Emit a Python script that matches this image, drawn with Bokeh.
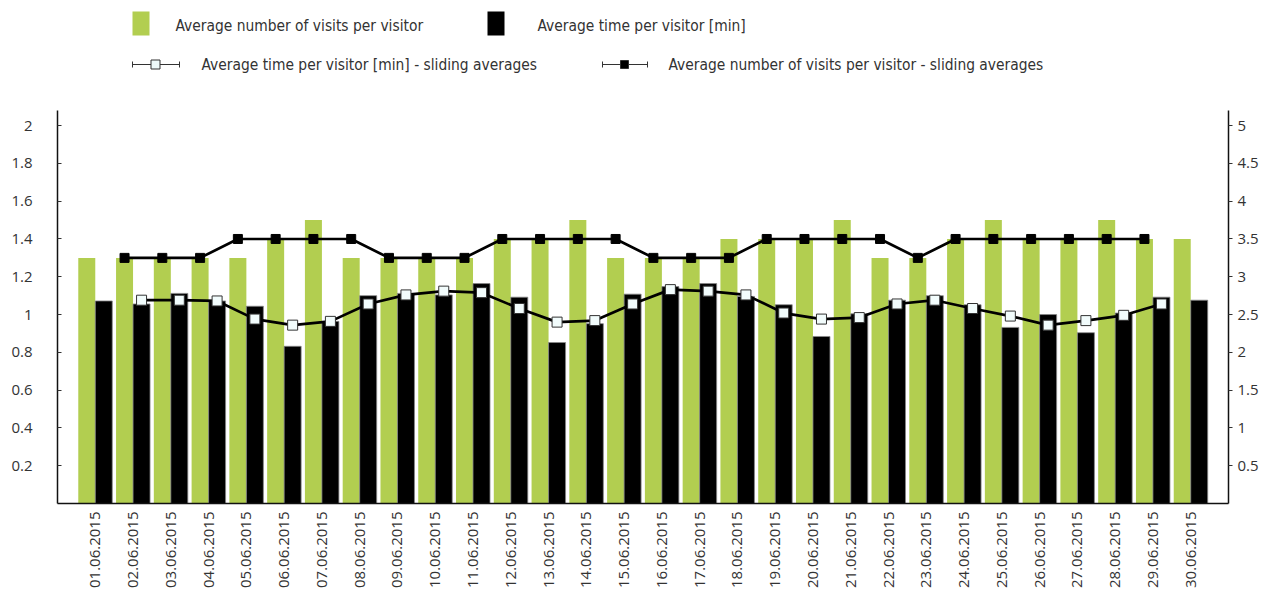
from bokeh.plotting import figure
from bokeh.models import Range1d, LinearAxis, FixedTicker, ColumnDataSource, CustomJSTickFormatter
from bokeh.layouts import column
from bokeh.embed import file_html
from bokeh.resources import INLINE
from bokeh.core.properties import value
from bokeh.transform import dodge
from math import pi

# ---------------- data ----------------
days = list(range(1, 31))
date_labels = ["01.06.2015", "02.06.2015", "03.06.2015", "04.06.2015", "05.06.2015",
               "06.06.2015", "07.06.2015", "08.06.2015", "09.06.2015", "10.06.2015",
               "11.06.2015", "12.06.2015", "13.06.2015", "14.06.2015", "15.06.2015",
               "16.06.2015", "17.06.2015", "18.06.2015", "19.06.2015", "20.06.2015",
               "21.06.2015", "22.06.2015", "23.06.2015", "24.06.2015", "25.06.2015",
               "26.06.2015", "27.06.2015", "28.06.2015", "29.06.2015", "30.06.2015"]
visits = [1.3, 1.3, 1.3, 1.3, 1.3, 1.4, 1.5, 1.3, 1.3, 1.3,
          1.3, 1.4, 1.4, 1.5, 1.3, 1.3, 1.3, 1.4, 1.4, 1.4,
          1.5, 1.3, 1.3, 1.4, 1.5, 1.4, 1.4, 1.5, 1.4, 1.4]
time_min = [2.68, 2.64, 2.78, 2.68, 2.61, 2.08, 2.41, 2.75, 2.78, 2.76,
            2.91, 2.73, 2.13, 2.38, 2.77, 2.87, 2.91, 2.74, 2.63, 2.21,
            2.51, 2.69, 2.75, 2.63, 2.33, 2.50, 2.26, 2.52, 2.73, 2.69]
sliding_days = list(range(2, 30))
visits_sliding = [1.3, 1.3, 1.3, 1.4, 1.4, 1.4, 1.4, 1.3, 1.3, 1.3,
                  1.4, 1.4, 1.4, 1.4, 1.3, 1.3, 1.3, 1.4, 1.4, 1.4,
                  1.4, 1.3, 1.4, 1.4, 1.4, 1.4, 1.4, 1.4]
time_sliding = [2.69, 2.69, 2.68, 2.44, 2.36, 2.41, 2.64, 2.76, 2.81, 2.79,
                2.58, 2.40, 2.42, 2.64, 2.83, 2.81, 2.76, 2.52, 2.44, 2.46,
                2.64, 2.69, 2.58, 2.48, 2.36, 2.42, 2.49, 2.64]
left_ticks = [0.2, 0.4, 0.6, 0.8, 1, 1.2, 1.4, 1.6, 1.8, 2]
right_ticks = [0.5, 1, 1.5, 2, 2.5, 3, 3.5, 4, 4.5, 5]
legend_labels = ["Average number of visits per visitor",
                 "Average time per visitor [min]",
                 "Average time per visitor [min] - sliding averages",
                 "Average number of visits per visitor - sliding averages"]

# ---------------- style ----------------
GREEN = "#b2ce50"
TXT = "#333333"
LEG_FONT = value("DejaVu Sans Condensed")
TICK_FONT = "Open Sans"
W = 1265
FL, FR = 57, 1228   # frame left / right (px)

bars = ColumnDataSource(dict(day=days, visits=visits, time=time_min))
slide = ColumnDataSource(dict(day=sliding_days, vs=visits_sliding, ts=time_sliding))

# ---------------- main chart ----------------
p = figure(width=W, height=495, x_range=Range1d(0, 31), y_range=Range1d(0, 2.08),
           x_axis_type=None, y_axis_type=None, output_backend="svg",
           toolbar_location=None, min_border_left=FL, min_border_right=W - FR,
           min_border_top=12, min_border_bottom=90)
p.extra_y_ranges = {"right": Range1d(0, 5.2)}
p.outline_line_color = None
p.grid.visible = False
p.background_fill_color = "white"

fmt = CustomJSTickFormatter(code="return String(tick);")

ya = LinearAxis(ticker=FixedTicker(ticks=left_ticks), formatter=fmt)
ya.major_tick_in = 4
ya.major_tick_out = 0
ya.minor_tick_in = 0
ya.minor_tick_out = 0
ya.major_label_standoff = 25
p.add_layout(ya, "left")

yr = LinearAxis(y_range_name="right", ticker=FixedTicker(ticks=right_ticks), formatter=fmt)
yr.major_tick_in = 0
yr.major_tick_out = 4
yr.minor_tick_in = 0
yr.minor_tick_out = 0
yr.major_label_standoff = 5
p.add_layout(yr, "right")

xa = LinearAxis(ticker=FixedTicker(ticks=days),
                major_label_overrides={d: lab for d, lab in zip(days, date_labels)})
xa.major_tick_in = 0
xa.major_tick_out = 0
xa.minor_tick_in = 0
xa.minor_tick_out = 0
xa.major_label_orientation = pi / 2
xa.major_label_standoff = 8
p.add_layout(xa, "below")

for ax in (ya, yr, xa):
    ax.axis_line_color = "#111111"
    ax.axis_line_width = 1.5
    ax.major_tick_line_color = "#333333"
    ax.major_label_text_font = TICK_FONT
    ax.major_label_text_font_size = "15px"
    ax.major_label_text_color = TXT

p.vbar(x=dodge("day", -0.225, range=p.x_range), top="visits", width=0.45,
       source=bars, fill_color=GREEN, line_color=None)
p.vbar(x=dodge("day", 0.225, range=p.x_range), top="time", width=0.45,
       source=bars, fill_color="black", line_color="#888888", line_width=0.8,
       y_range_name="right")

p.line(x=dodge("day", -0.225, range=p.x_range), y="vs", source=slide,
       line_color="black", line_width=2.7)
p.scatter(x=dodge("day", -0.225, range=p.x_range), y="vs", source=slide,
          marker="square", size=9, fill_color="black", line_color="black")

p.line(x=dodge("day", 0.225, range=p.x_range), y="ts", source=slide,
       line_color="black", line_width=2.7, y_range_name="right")
p.scatter(x=dodge("day", 0.225, range=p.x_range), y="ts", source=slide,
          marker="square", size=10, fill_color="#f2fcfc", line_color="#333333",
          line_width=1, y_range_name="right")

# ---------------- legend strip (its frame is aligned with the chart frame) ----------------
lg = figure(width=W, height=98, x_range=Range1d(FL, FR), y_range=Range1d(98, 0),
            x_axis_type=None, y_axis_type=None, output_backend="svg",
            toolbar_location=None, min_border_left=FL, min_border_right=W - FR,
            min_border_top=0, min_border_bottom=0)
lg.outline_line_color = None
lg.grid.visible = False

lg.quad(left=[132], right=[149], top=[11], bottom=[35], fill_color=GREEN, line_color=None)
lg.quad(left=[487], right=[504], top=[11], bottom=[35], fill_color="black", line_color=None)

# line keys
for x0, x1, xm, fill, sz in ((132, 179, 155, "#eefafa", 9), (602, 647, 624, "black", 8)):
    lg.segment(x0=[x0], y0=[64], x1=[x1], y1=[64], line_color="#333333", line_width=1)
    lg.segment(x0=[x0, x1], y0=[61, 61], x1=[x0, x1], y1=[67, 67],
               line_color="#333333", line_width=1)
    lg.scatter(x=[xm], y=[64], marker="square", size=sz, fill_color=fill,
               line_color="#333333", line_width=1)

lg.text(x=[175, 537, 201, 668], y=[25, 25, 64, 64], text=legend_labels,
        text_baseline="middle", text_align="left", text_font=LEG_FONT,
        text_font_size="15.4px", text_color=TXT)

layout = column(lg, p, spacing=0)
open("out.html", "w").write(file_html(layout, INLINE))
